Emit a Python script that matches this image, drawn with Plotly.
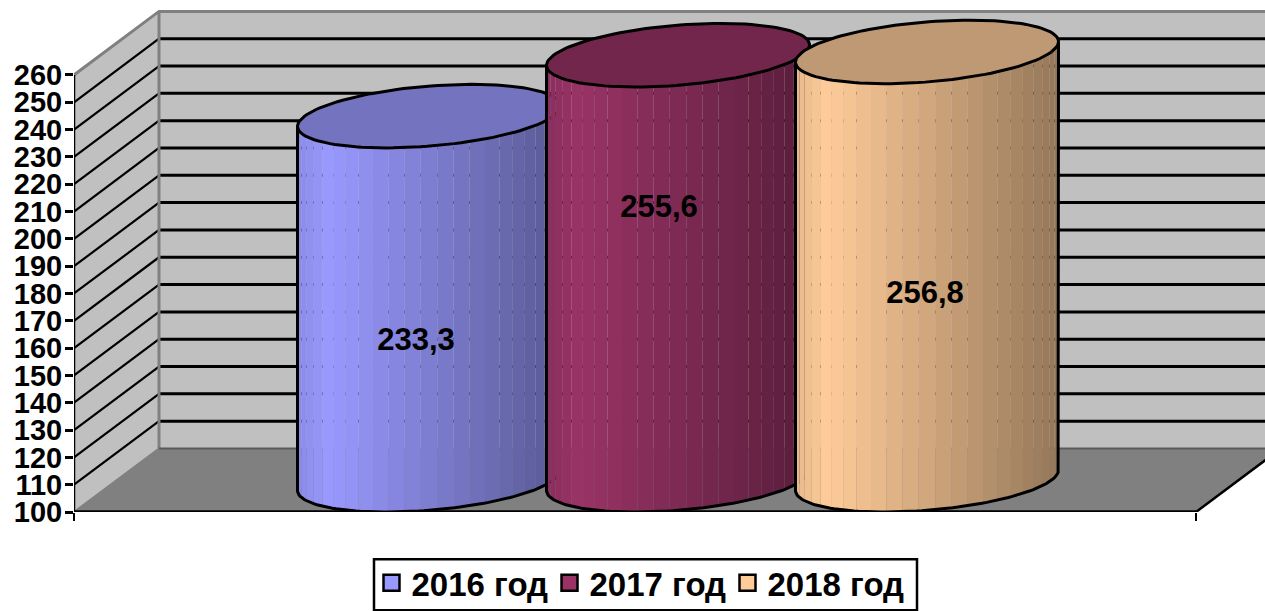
import math
import plotly.graph_objects as go

# --- data ---
years = ["2016 год", "2017 год", "2018 год"]
values = [233.3, 255.6, 256.8]
value_labels = ["233,3", "255,6", "256,8"]
base_colors = [(0x99, 0x99, 0xFF), (0x99, 0x33, 0x66), (0xFF, 0xCC, 0x99)]
tick_values = list(range(100, 261, 10))
tick_labels = [str(v) for v in tick_values]
label_heights = [162.2, 210.7, 179.3]
label_shift = [-0.052, -0.076, -0.008]

# --- geometry of the fake 3-D box, in pixels converted to axis units ---
W, H = 1265, 611
L_PX, B_PX = 74.0, 511.7
PX_PER_VALUE = 2.73
PX_PER_CAT = 249.0
CAT0_PX = 429.0
Y_MIN = 100.0
Y_MAX_AXIS = 260.0
yr = [Y_MIN, Y_MIN + B_PX / PX_PER_VALUE]


def xu(px):
    return px / PX_PER_CAT


xr = [(L_PX - CAT0_PX) / PX_PER_CAT, (W - CAT0_PX) / PX_PER_CAT]
DEPTH_X = xu(85.0)
DEPTH_Y = 63.5 / PX_PER_VALUE
LEFT = xr[0]
FRONT_RIGHT = (1196 - CAT0_PX) / PX_PER_CAT
FAR = xr[1] + DEPTH_X
HALF_W = 131.5
SEMI_A = xu(math.sqrt(HALF_W ** 2 - 42.5 ** 2))
T_RIGHT = math.atan2(42.5, math.sqrt(HALF_W ** 2 - 42.5 ** 2))
N_STRIPS = 25

traces = []


def poly(xs, ys, fill=None, line=None, width=0):
    traces.append(go.Scatter(
        x=xs, y=ys, mode="lines", showlegend=False, hoverinfo="skip", cliponaxis=False,
        fill="toself" if fill else "none", fillcolor=fill,
        line=dict(color=line if line else "rgba(0,0,0,0)", width=width),
    ))


BACK_X = LEFT + DEPTH_X
TOP_BACK = Y_MAX_AXIS + DEPTH_Y
FLOOR_BACK = Y_MIN + DEPTH_Y

# walls and floor
poly([BACK_X, FAR, FAR, BACK_X, BACK_X], [FLOOR_BACK, FLOOR_BACK, TOP_BACK, TOP_BACK, FLOOR_BACK], "#C0C0C0")
poly([LEFT, BACK_X, BACK_X, LEFT, LEFT], [Y_MIN, FLOOR_BACK, TOP_BACK, Y_MAX_AXIS, Y_MIN], "#C0C0C0")
poly([LEFT, FRONT_RIGHT, FRONT_RIGHT + DEPTH_X, FAR, BACK_X, LEFT],
     [Y_MIN, Y_MIN, FLOOR_BACK, FLOOR_BACK, FLOOR_BACK, Y_MIN], "#808080")

# gridlines on walls
for v in tick_values[1:-1]:
    poly([LEFT, BACK_X], [v, v + DEPTH_Y], line="#000000", width=2.2)
    poly([BACK_X, FAR], [v + DEPTH_Y, v + DEPTH_Y], line="#000000", width=3)

# wall borders
poly([LEFT, BACK_X, FAR], [Y_MAX_AXIS, TOP_BACK, TOP_BACK], line="#808080", width=3)
poly([BACK_X, BACK_X], [FLOOR_BACK, TOP_BACK], line="#808080", width=3)
poly([LEFT, BACK_X], [Y_MIN, FLOOR_BACK], line="#808080", width=2)
poly([BACK_X, FAR], [FLOOR_BACK, FLOOR_BACK], line="#5A5A5A", width=2)
# front edges
poly([FRONT_RIGHT, FRONT_RIGHT + DEPTH_X], [Y_MIN, FLOOR_BACK], line="#000000", width=2.5)
poly([LEFT, FRONT_RIGHT], [Y_MIN, Y_MIN], line="#000000", width=3.5)
poly([LEFT, LEFT], [Y_MIN, Y_MAX_AXIS], line="#000000", width=2.5)


def pt(i, level, t):
    x = i + SEMI_A * math.cos(t) + DEPTH_X / 2 * math.sin(t)
    y = level + DEPTH_Y / 2 + DEPTH_Y / 2 * math.sin(t)
    return x, y


def shade(c, f):
    return "rgb(%d,%d,%d)" % tuple(round(ch * f) for ch in c)


def factor(u):
    if u < 0.12:
        return 0.9 + 0.1 * u / 0.12
    return 1.0 - 0.42 * (u - 0.12) / 0.88


for i, (val, col) in enumerate(zip(values, base_colors)):
    angles = [T_RIGHT - math.pi * k / N_STRIPS for k in range(N_STRIPS + 1)]
    for a0, a1 in zip(angles[:-1], angles[1:]):
        arc = [a0 + (a1 - a0) * s / 3 for s in range(4)]
        bot = [pt(i, Y_MIN, a) for a in arc]
        top = [pt(i, val, a) for a in reversed(arc)]
        xs = [p[0] for p in bot + top] + [bot[0][0]]
        ys = [p[1] for p in bot + top] + [bot[0][1]]
        mid = pt(i, val, (a0 + a1) / 2)[0]
        u = (i + xu(HALF_W) - mid) / (2 * xu(HALF_W))
        poly(xs, ys, shade(col, factor(1 - u)))
    # top face
    ring = [2 * math.pi * k / 120 for k in range(121)]
    pts = [pt(i, val, a) for a in ring]
    poly([p[0] for p in pts], [p[1] for p in pts], shade(col, 0.75), "#000000", 3)
    # outline of side
    arc = [T_RIGHT - math.pi * k / 80 for k in range(81)]
    bot = [pt(i, Y_MIN, a) for a in arc]
    tr, tl = pt(i, val, arc[0]), pt(i, val, arc[-1])
    xs = [tr[0]] + [p[0] for p in bot] + [tl[0]]
    ys = [tr[1]] + [p[1] for p in bot] + [tl[1]]
    poly(xs, ys, None, "#000000", 3)

# data labels
traces.append(go.Scatter(
    x=[i + s for i, s in enumerate(label_shift)], y=label_heights, text=value_labels,
    mode="text", textposition="middle center", showlegend=False, hoverinfo="skip", cliponaxis=False,
    textfont=dict(family="Liberation Sans", size=31, color="#000000", weight=700),
))

# legend entries
for name, col in zip(years, base_colors):
    traces.append(go.Scatter(
        x=[None], y=[None], mode="markers", name=name,
        marker=dict(symbol="square", size=20, color="rgb(%d,%d,%d)" % col, line=dict(color="#000000", width=2.5)),
    ))


def paper_x(px):
    return (px - L_PX) / (W - L_PX)


def paper_y(px):
    return (B_PX - px) / B_PX


fig = go.Figure(traces)
fig.update_layout(
    width=W, height=H, autosize=False,
    margin=dict(l=L_PX, r=0, t=0, b=H - B_PX, pad=0, autoexpand=False),
    paper_bgcolor="#FFFFFF", plot_bgcolor="#FFFFFF",
    showlegend=True,
    shapes=[dict(
        type="rect", xref="paper", yref="paper",
        x0=paper_x(374), x1=paper_x(917), y0=paper_y(610), y1=paper_y(559),
        line=dict(color="#000000", width=2.5), fillcolor="#FFFFFF", layer="above",
    )],
    legend=dict(
        orientation="h", x=paper_x(376.5), y=paper_y(554.5),
        xanchor="left", yanchor="top", bgcolor="rgba(0,0,0,0)", borderwidth=0,
        font=dict(family="Liberation Sans", size=33, color="#000000", weight=700),
        itemsizing="trace", traceorder="normal", indentation=-5, entrywidth=138,
    ),
    xaxis=dict(
        range=xr, showgrid=False, zeroline=False, showline=False,
        tickmode="array", tickvals=[LEFT, FRONT_RIGHT], showticklabels=False,
        ticks="outside", ticklen=8, tickwidth=2, tickcolor="#000000",
    ),
    yaxis=dict(
        range=yr, showgrid=False, zeroline=False, showline=False,
        tickmode="array", tickvals=tick_values, ticktext=tick_labels,
        ticks="outside", ticklen=8, tickwidth=2.5, tickcolor="#000000", ticklabelstandoff=-3,
        tickfont=dict(family="Liberation Sans", size=29, color="#000000", weight=700),
    ),
)
fig.write_html("out.html", config=dict(displayModeBar=False),
               post_script="document.body.style.margin='0';")
